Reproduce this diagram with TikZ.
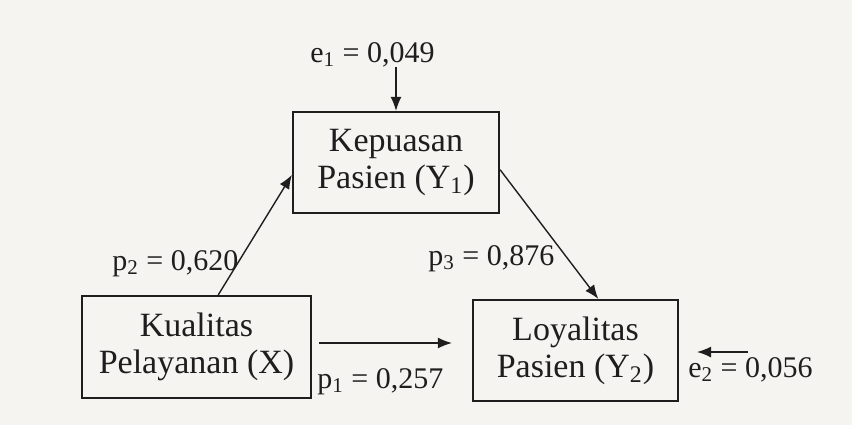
\documentclass[tikz,border=0pt]{standalone}
\usepackage{fontspec}
\setmainfont{Liberation Serif}
\usetikzlibrary{arrows.meta,calc}
\definecolor{paper}{RGB}{245,244,241}
\definecolor{ink}{RGB}{30,30,30}
\begin{document}
\begin{tikzpicture}[x=0.5pt,y=-0.5pt,
  varbox/.style={draw=ink,line width=1.1pt,inner sep=0pt,align=center,
    font=\fontsize{17}{18.5}\selectfont,text=ink},
  coef/.style={anchor=base west,inner sep=0pt,font=\fontsize{15}{17}\selectfont,text=ink},
  arr/.style={draw=ink,line width=0.7pt,-{Latex[length=7pt,width=5.5pt]}}]
\fill[paper] (0,0) rectangle (852,425);
\useasboundingbox (0,0) rectangle (852,425);
% boxes
\node[varbox,minimum width=114.5pt,minimum height=51pt] (kual) at (196.5,347) {Kualitas\\Pelayanan (X)};
\node[varbox,minimum width=103pt,minimum height=50.5pt] (kep) at (396,162.5) {Kepuasan\\Pasien (Y\textsubscript{1})};
\node[varbox,minimum width=102.5pt,minimum height=50.5pt] (loy) at (575.5,350.5) {Loyalitas\\Pasien (Y\textsubscript{2})};
% labels
\node[coef] (e1lab) at (310,62) {e\textsubscript{1} = 0,049};
\node[coef] (p2lab) at (112,270) {p\textsubscript{2} = 0,620};
\node[coef] (p3lab) at (428,265) {p\textsubscript{3} = 0,876};
\node[coef] (p1lab) at (317,388) {p\textsubscript{1} = 0,257};
\node[coef] (e2lab) at (688,377) {e\textsubscript{2} = 0,056};
% connectors
\draw[arr] (kep.north |- e1lab.south) -- (kep.north);
\draw[arr] ($(kual.north west)!0.594!(kual.north east)$) -- ($(kep.north west)!0.62!(kep.south west)$);
\draw[arr] ($(kep.north east)!0.57!(kep.south east)$) -- ($(loy.north west)!0.61!(loy.north east)$);
\draw[arr] ([shift={(7,-4)}]kual.east) -- ([shift={(-20,-7.5)}]loy.west);
\coordinate (e2s) at (748,352);
\coordinate (e2e) at (697,352);
\draw[arr] (e2s) -- (e2e);
\end{tikzpicture}
\end{document}
